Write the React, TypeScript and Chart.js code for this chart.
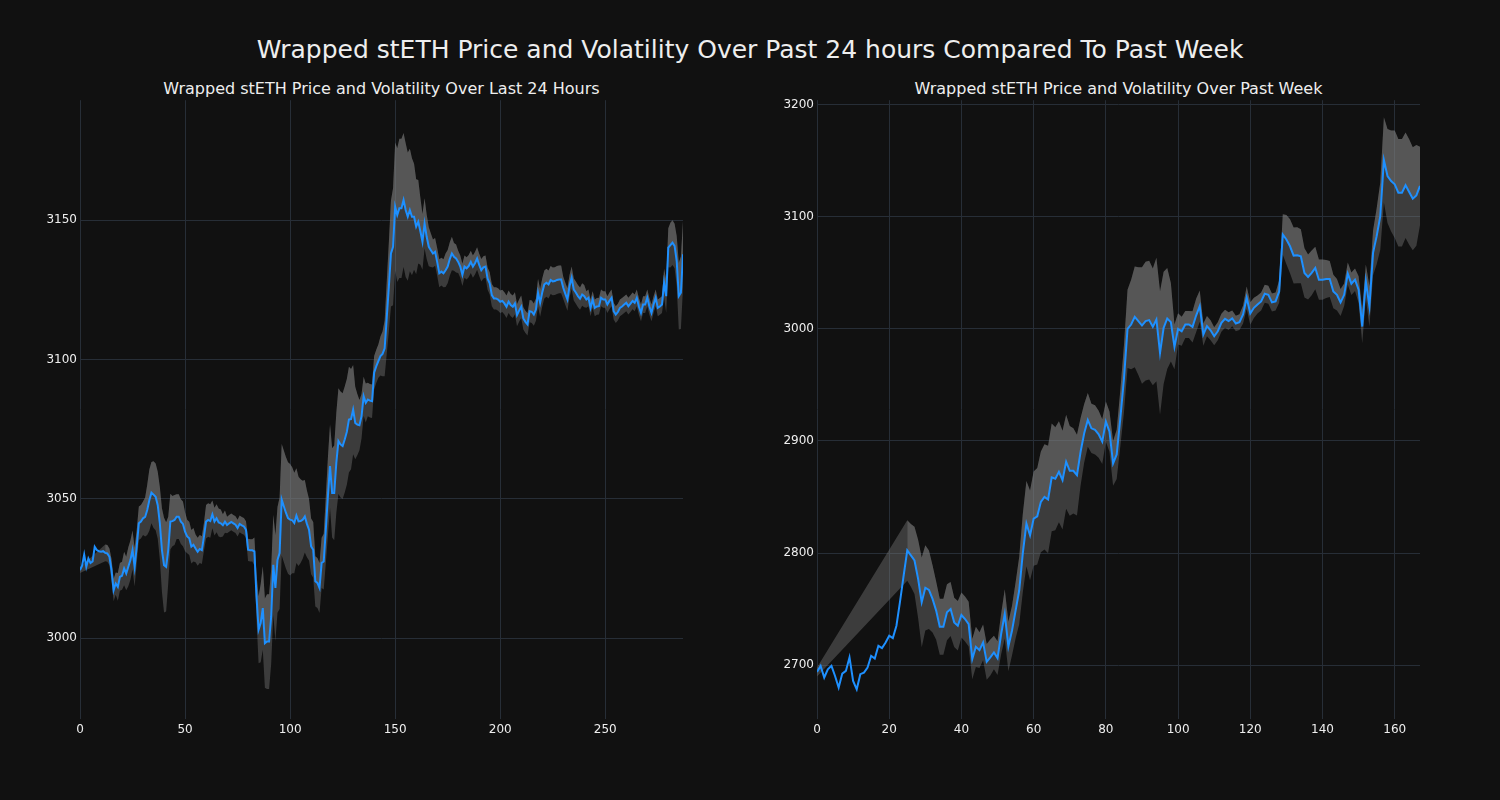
import React, { useEffect, useRef } from "react";
import { Chart, registerables } from "chart.js";

Chart.register(...registerables);

// ---------- DATA ----------
const MAIN_TITLE = "Wrapped stETH Price and Volatility Over Past 24 hours Compared To Past Week";
const LEFT_TITLE = "Wrapped stETH Price and Volatility Over Last 24 Hours";
const RIGHT_TITLE = "Wrapped stETH Price and Volatility Over Past Week";

const LEFT_X_TICKS = [0, 50, 100, 150, 200, 250];
const LEFT_Y_TICKS = [3000, 3050, 3100, 3150];
const RIGHT_X_TICKS = [0, 20, 40, 60, 80, 100, 120, 140, 160];
const RIGHT_Y_TICKS = [2700, 2800, 2900, 3000, 3100, 3200];

// 5-minute prices, last 24 hours
const LEFT_PRICE = [
  3024.4, 3026, 3030, 3025.6, 3028.6, 3027, 3027.5, 3032.8, 3031.6, 3031.2, 3031, 3031.2,
  3030.6, 3030.4, 3029.2, 3024.4, 3017.2, 3019.6, 3018.4, 3022, 3022.4, 3025, 3023.2, 3025.6,
  3028, 3031.6, 3025.5, 3032.8, 3041.2, 3041.8, 3043, 3043.5, 3046, 3049.5, 3052.2, 3051.5,
  3050.7, 3047.7, 3041.2, 3031.6, 3026.2, 3025.6, 3031.6, 3041.8, 3042, 3042.4, 3043.6, 3043.6,
  3041.8, 3041, 3038.2, 3036.5, 3035.8, 3032.8, 3033.5, 3032.2, 3031, 3032, 3031.6, 3036.4,
  3041.8, 3042.4, 3042, 3044.4, 3041.8, 3043, 3041.5, 3041.2, 3040.5, 3041.8, 3040.6, 3041.2,
  3041.7, 3041.2, 3040.7, 3039.5, 3041, 3040.5, 3040.1, 3038.9, 3031.7, 3031.5, 3031.5, 3031.1,
  3015, 3003, 3005.4, 3010.8, 2998.2, 2998.8, 2998.8, 3007.8, 3026.3, 3018, 3028.1, 3030.5,
  3049.7, 3047.3, 3045, 3043.1, 3042.5, 3042.3, 3041.3, 3044, 3041.9, 3042, 3042.5, 3043.7,
  3041, 3038.9, 3032.9, 3031.7, 3020.4, 3019.8, 3018, 3027, 3027.5, 3038.9, 3050.9, 3061.7,
  3052.1, 3052.1, 3062.9, 3070.7, 3069.5, 3068.9, 3071.3, 3074, 3078.4, 3078.6, 3082, 3077.2,
  3076.6, 3076.4, 3079.6, 3086.8, 3084.4, 3085.6, 3085.2, 3085, 3095.2, 3097.5, 3099.4, 3101.2,
  3102, 3104, 3115, 3126, 3138, 3140.4, 3154.8, 3151.8, 3154.2, 3154.2, 3157.2, 3153.6,
  3151.2, 3153.6, 3151.2, 3151.2, 3147.6, 3149.4, 3146, 3142.2, 3148.8, 3144, 3140.4, 3139.2,
  3138, 3138.6, 3135, 3130.9, 3131.5, 3130.9, 3132, 3133.3, 3136, 3138, 3136.8, 3136.2,
  3135, 3133.3, 3130.3, 3133.3, 3132.7, 3133.5, 3135, 3133.3, 3134.5, 3136.2, 3133.9, 3132,
  3133, 3133.3, 3129, 3127.3, 3123.1, 3121.9, 3121.9, 3121.5, 3120.7, 3121, 3120.1, 3118.9,
  3120.7, 3119.5, 3118.9, 3120.1, 3115.9, 3117.5, 3118.9, 3114.7, 3113.5, 3112.6, 3117.3, 3117.1,
  3116.1, 3117.9, 3123.9, 3120.3, 3124, 3126.9, 3127.5, 3126.9, 3128.5, 3128, 3128.1, 3128.5,
  3128.7, 3128.7, 3125.7, 3123.5, 3121.5, 3126.3, 3129.3, 3125.1, 3124, 3122.7, 3121.8, 3123.3,
  3122.7, 3121.5, 3122.1, 3118.5, 3121.5, 3118.5, 3119, 3119.1, 3122.1, 3121.5, 3121.5, 3119.7,
  3121, 3122.1, 3117.3, 3116.1, 3117, 3118.5, 3119, 3119.7, 3120.3, 3119.1, 3120, 3121,
  3120.3, 3122.1, 3119, 3116.7, 3119.7, 3119.7, 3122.1, 3119, 3116.7, 3119.7, 3122.1, 3118.5,
  3119, 3119.7, 3127.5, 3122.7, 3140.1, 3141, 3141.9, 3140.7, 3135.3, 3122.7, 3123.9, 3137.7,
];

// volatility band half-width (null where not yet available)
const LEFT_VOL = [
  1, null, null, null, null, null, null, null, null, null, null, null,
  3, 3, 3, 4, 4, 4, 5, 5, 5, 6, 6, 7,
  7, 7, 7, 6, 6, 6, 6, 7, 9, 11, 11, 12,
  12, 12, 13, 15, 17, 16, 12, 10, 9, 9, 8, 8,
  8, 8, 7, 6, 6, 6, 6, 5, 5, 5, 5, 5,
  6, 6, 6, 5, 5, 5, 5, 5, 4, 4, 3, 3,
  3, 3, 3, 3, 3, 3, 3, 3, 4, 4, 4, 5,
  8, 12, 14, 15, 16, 17, 17, 17, 18, 19, 19, 20,
  20, 20, 20, 20, 20, 19, 18, 17, 16, 15, 14, 13,
  12, 11, 10, 10, 9, 9, 9, 9, 10, 12, 14, 15,
  16, 17, 18, 19, 19, 19, 19, 19, 19, 18, 16, 13,
  11, 9, 8, 7, 7, 6, 6, 6, 6, 6, 6, 7,
  8, 10, 13, 16, 19, 21, 23, 24, 25, 25, 24, 24,
  23, 22, 21, 19, 17, 15, 12, 10, 9, 8, 7, 6,
  5, 5, 5, 5, 5, 5, 6, 6, 6, 6, 5, 5,
  4, 4, 4, 4, 4, 4, 4, 4, 4, 4, 4, 4,
  4, 4, 4, 4, 4, 4, 4, 4, 4, 4, 4, 4,
  4, 4, 4, 4, 4, 4, 4, 4, 4, 4, 4, 4,
  4, 4, 5, 5, 5, 5, 5, 5, 5, 5, 5, 5,
  5, 5, 4, 4, 4, 4, 4, 4, 4, 4, 4, 4,
  4, 3, 3, 3, 3, 3, 3, 3, 3, 3, 3, 3,
  3, 3, 3, 3, 3, 3, 3, 3, 3, 3, 3, 3,
  3, 3, 3, 3, 3, 3, 3, 3, 3, 3, 3, 3,
  3, 3, 5, 6, 7, 8, 8, 8, 9, 12, 13, 12,
];

// hourly prices, past week
const RIGHT_PRICE = [
  2694, 2699.4, 2689, 2696.4, 2699.4, 2690.4, 2680, 2692.5, 2694.9, 2706.9, 2686, 2678.5,
  2692, 2693.4, 2697.9, 2708.4, 2706, 2717.3, 2715.2, 2720.3, 2726.3, 2724.2, 2735.2, 2757,
  2780, 2802.4, 2797.9, 2793.4, 2777, 2756.1, 2769, 2767.2, 2759.1, 2748.7, 2734.3, 2734.3,
  2747.2, 2750.1, 2738.2, 2735.2, 2744.8, 2741.2, 2736.7, 2705.4, 2716.4, 2713.4, 2720.3, 2703,
  2706.9, 2711.3, 2706.3, 2727.8, 2745.7, 2716.7, 2730.7, 2748.7, 2766.6, 2800, 2826.3, 2815.8,
  2830.7, 2832.8, 2845.7, 2850.1, 2847.8, 2867.5, 2866.3, 2872.5, 2865.1, 2881.5, 2873.4, 2873.4,
  2869.6, 2890.4, 2906.9, 2918.8, 2911.3, 2909.9, 2906, 2899.4, 2917.3, 2908.4, 2880, 2888,
  2920, 2955, 3000, 3003.9, 3010.7, 3006.9, 3003, 3006.9, 3007.8, 3001.8, 3008.4, 2978.5,
  3000.9, 3009.3, 3006, 2983.9, 3000, 2997.9, 3003.9, 3003.9, 3001.8, 3011.9, 3020.3, 2994.9,
  3002.4, 2998.8, 2993.4, 2997.9, 3005.4, 3009, 3006.9, 3009.3, 3004.8, 3006, 3012.8, 3027.8,
  3013.7, 3018.8, 3021.8, 3024.5, 3031.3, 3030.4, 3023.6, 3024.5, 3033.4, 3084.2, 3079.7, 3073.7,
  3065.4, 3065.7, 3064.8, 3049.9, 3046.3, 3049.9, 3054.3, 3043.9, 3043.9, 3044.5, 3044.5, 3033.4,
  3030.4, 3023.6, 3030.4, 3049.3, 3040.3, 3043.9, 3035, 3002.1, 3042.4, 3020, 3067.8, 3082.7,
  3100.6, 3150.7, 3136.4, 3131.9, 3129, 3121.5, 3121.5, 3128.1, 3122.1, 3116.1, 3119.1, 3127.5,
];

const RIGHT_VOL = [
  4, null, null, null, null, null, null, null, null, null, null, null,
  null, null, null, null, null, null, null, null, null, null, null, null,
  null, 27, 28, 30, 35, 40, 38, 35, 30, 26, 25, 25,
  25, 24, 22, 22, 20, 20, 20, 18, 18, 16, 16, 16,
  16, 15, 15, 18, 22, 22, 22, 25, 30, 35, 38, 40,
  42, 43, 45, 47, 48, 48, 46, 45, 44, 42, 40, 38,
  36, 30, 26, 24, 22, 22, 21, 20, 18, 18, 20, 22,
  25, 30, 35, 40, 45, 48, 52, 53, 53, 52, 55, 55,
  50, 45, 35, 20, 14, 13, 12, 12, 14, 15, 14, 10,
  9, 9, 8, 8, 8, 8, 8, 7, 7, 7, 8, 10,
  10, 9, 8, 8, 8, 8, 8, 8, 10, 18, 22, 24,
  25, 25, 24, 22, 20, 20, 19, 18, 18, 17, 16, 15,
  14, 12, 10, 10, 10, 10, 12, 15, 15, 18, 20, 25,
  30, 38, 42, 45, 48, 48, 48, 47, 47, 46, 45, 35,
];

// ---------- STYLE ----------
const BG = "#111111";
const GRID = "#272e37";
const TEXT = "#eeeeee";
const LINE = "rgb(30,144,255)";
const BAND = "rgba(128,128,128,0.39)";
const BAND_UP = "rgba(128,128,128,0.38)";
const FONT = "'DejaVu Sans', sans-serif";

function buildConfig(price: number[], vol: (number | null)[], xMax: number, yMin: number, yMax: number, xTicks: number[], yTicks: number[]) {
  const pts = price.map((p, i) => ({ x: i, y: p }));
  const upper = price.map((p, i) => ({ x: i, y: vol[i] == null ? null : p + (vol[i] as number) }));
  const lower = price.map((p, i) => ({ x: i, y: vol[i] == null ? null : p - (vol[i] as number) }));
  const clear = "rgba(0,0,0,0)";
  return {
    type: "line",
    data: {
      datasets: [
        { data: pts, borderColor: LINE, borderWidth: 2, pointRadius: 0, fill: false, tension: 0 },
        { data: upper, borderColor: clear, borderWidth: 1, pointRadius: 0, spanGaps: true, fill: { target: 2 }, backgroundColor: BAND },
        { data: lower, borderColor: clear, borderWidth: 1, pointRadius: 0, spanGaps: true, fill: false },
        { data: upper, borderColor: clear, borderWidth: 1, pointRadius: 0, spanGaps: false, fill: { target: 0 }, backgroundColor: BAND_UP },
      ],
    },
    options: {
      animation: false,
      responsive: false,
      events: [],
      layout: { padding: { left: 0, right: 17, top: 10, bottom: 0 } },
      plugins: { legend: { display: false }, tooltip: { enabled: false }, title: { display: false } },
      scales: {
        x: {
          type: "linear",
          min: 0,
          max: xMax,
          afterBuildTicks: (s: any) => { s.ticks = xTicks.map((v) => ({ value: v })); },
          afterFit: (s: any) => { s.height = 51; },
          ticks: { color: TEXT, font: { family: FONT, size: 12 }, padding: 4, maxRotation: 0, autoSkip: false, callback: (v: any) => String(v) },
          grid: { color: GRID, drawTicks: false, lineWidth: 1 },
          border: { display: false },
        },
        y: {
          type: "linear",
          min: yMin,
          max: yMax,
          afterBuildTicks: (s: any) => { s.ticks = yTicks.map((v) => ({ value: v })); },
          afterFit: (s: any) => { s.width = 80; },
          ticks: { color: TEXT, font: { family: FONT, size: 12 }, padding: 3, autoSkip: false, callback: (v: any) => String(v) },
          grid: { color: GRID, drawTicks: false, lineWidth: 1 },
          border: { display: false },
        },
      },
    },
  };
}

function ChartCanvas(props: { left: number; config: any }) {
  const ref = useRef<HTMLCanvasElement | null>(null);
  useEffect(() => {
    if (!ref.current) return;
    const chart = new Chart(ref.current, props.config);
    return () => chart.destroy();
  }, []);
  return (
    <canvas
      ref={ref}
      width={700}
      height={680}
      style={{ position: "absolute", left: props.left, top: 90, width: 700, height: 680 }}
    />
  );
}

export default function App() {
  const leftCfg = buildConfig(LEFT_PRICE, LEFT_VOL, 287, 2971, 3193, LEFT_X_TICKS, LEFT_Y_TICKS);
  const rightCfg = buildConfig(RIGHT_PRICE, RIGHT_VOL, 167, 2652, 3204, RIGHT_X_TICKS, RIGHT_Y_TICKS);
  return (
    <div style={{ position: "fixed", left: 0, top: 0, width: 1500, height: 800, background: BG, fontFamily: FONT, overflow: "hidden" }}>
      <div style={{ position: "absolute", left: 0, top: 34, width: 1500, height: 32, lineHeight: "32px", textAlign: "center", fontSize: 25, color: TEXT }}>
        {MAIN_TITLE}
      </div>
      <div style={{ position: "absolute", left: 80, top: 78, width: 603, height: 22, lineHeight: "22px", textAlign: "center", fontSize: 16, color: TEXT }}>
        {LEFT_TITLE}
      </div>
      <div style={{ position: "absolute", left: 817, top: 78, width: 603, height: 22, lineHeight: "22px", textAlign: "center", fontSize: 16, color: TEXT }}>
        {RIGHT_TITLE}
      </div>
      <ChartCanvas left={0} config={leftCfg} />
      <ChartCanvas left={737} config={rightCfg} />
    </div>
  );
}
